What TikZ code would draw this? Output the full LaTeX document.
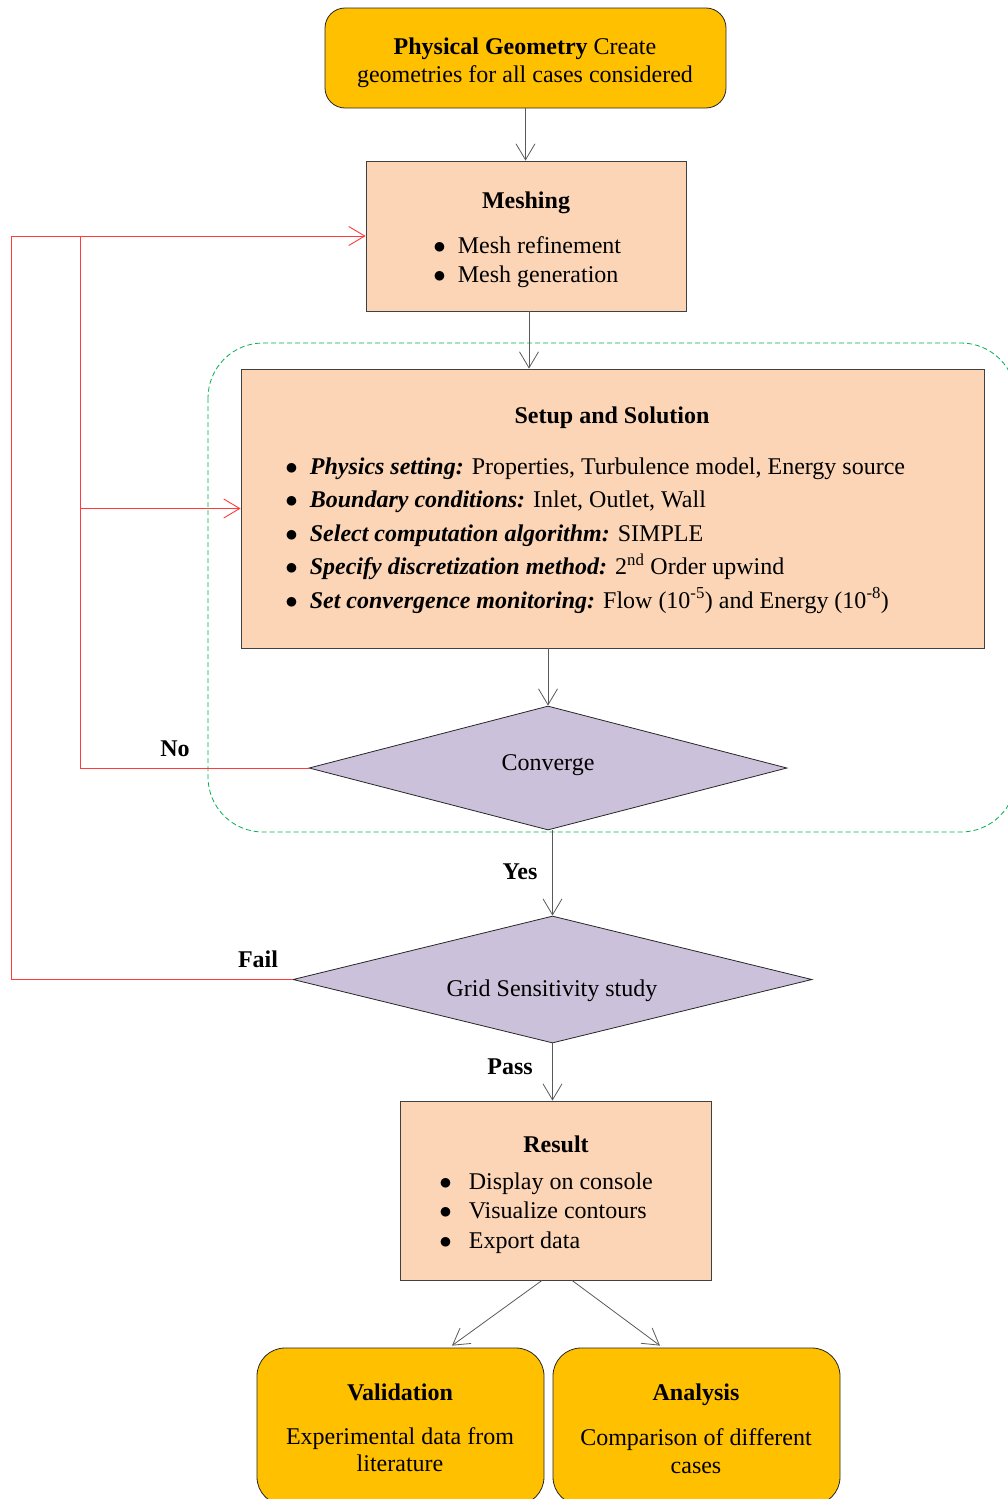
\documentclass[tikz,border=0pt]{standalone}
\usepackage{fontspec}
\setmainfont{Liberation Serif}
\usetikzlibrary{arrows.meta}
\usetikzlibrary{shapes.geometric}

\definecolor{gold}{HTML}{FFC000}
\definecolor{peach}{HTML}{FBD5B5}
\definecolor{lilac}{HTML}{CCC1DA}
\definecolor{loopred}{HTML}{FF3B3B}
\definecolor{dashgreen}{HTML}{00B050}
\definecolor{linegray}{HTML}{595959}

\newcommand{\bul}{$\bullet$}

\tikzset{
  txt/.style={font=\fontsize{24}{28}\selectfont, inner sep=0pt},
  endbox/.style={draw=black!85, fill=gold, rounded corners=20pt, inner sep=0pt},
  stepbox/.style={draw=black!75, fill=peach, inner sep=0pt},
  decide/.style={diamond, draw=black!85, fill=lilac, inner sep=0pt},
  conn/.style={linegray, -{Straight Barb[length=16pt,width=19pt]}},
  fb/.style={loopred, line width=0.9pt, -{Straight Barb[length=16pt,width=19pt]}},
}

\begin{document}
\begin{tikzpicture}[x=1pt, y=-1pt, line width=0.8pt]
\useasboundingbox (0,0) rectangle (1008,1499);

\draw[dashgreen, dash pattern=on 5pt off 3pt, rounded corners=55pt] (208,343) rectangle (1016,832);

\node[endbox, minimum width=401pt, minimum height=100pt] (geom) at (525.5,58) {};
\node[stepbox, minimum width=320pt, minimum height=150pt] (mesh) at (526,236) {};
\node[stepbox, minimum width=743pt, minimum height=279pt] (setup) at (612.5,508.5) {};
\node[decide, minimum width=478pt, minimum height=124pt] (conv) at (548,768) {};
\node[decide, minimum width=519pt, minimum height=127pt] (grid) at (552.5,979.5) {};
\node[stepbox, minimum width=311pt, minimum height=179pt] (result) at (555.5,1190.5) {};
\node[endbox, rounded corners=28pt, minimum width=287pt, minimum height=157pt] (valid) at (400.5,1426.5) {};
\node[endbox, rounded corners=28pt, minimum width=287pt, minimum height=157pt] (anal) at (696.5,1426.5) {};

\node[txt, anchor=base, align=center] (geomT) at (525,82) {\textbf{Physical Geometry} Create\\geometries for all cases considered};

\node[txt, anchor=base] (meshT) at (526,208) {\textbf{Meshing}};
\node[txt, anchor=base west, font=\fontsize{24}{29}\selectfont] (meshL) at (433,253)
  {\begin{tabular}[t]{@{}l@{\hspace{12pt}}l@{}}
  \bul & Mesh refinement\\
  \bul & Mesh generation
  \end{tabular}};

\node[txt, anchor=base] (setupT) at (612,423) {\textbf{Setup and Solution}};
\node[txt, anchor=base west, font=\fontsize{24}{33.5}\selectfont] (setupL) at (285,474)
  {\begin{tabular}[t]{@{}l@{\hspace{12pt}}l@{}}
  \bul & \textbf{\textit{Physics setting:}} Properties, Turbulence model, Energy source\\
  \bul & \textbf{\textit{Boundary conditions:}} Inlet, Outlet, Wall\\
  \bul & \textbf{\textit{Select computation algorithm:}} SIMPLE\\
  \bul & \textbf{\textit{Specify discretization method:}} 2\textsuperscript{nd} Order upwind\\
  \bul & \textbf{\textit{Set convergence monitoring:}} Flow (10\textsuperscript{-5}) and Energy (10\textsuperscript{-8})
  \end{tabular}};

\node[txt, anchor=base] (convT) at (548,770) {Converge};
\node[txt, anchor=base] (gridT) at (552,996) {Grid Sensitivity study};

\node[txt, anchor=base] (resultT) at (556,1152) {\textbf{Result}};
\node[txt, anchor=base west, font=\fontsize{24}{29.5}\selectfont] (resultL) at (439,1189)
  {\begin{tabular}[t]{@{}l@{\hspace{17pt}}l@{}}
  \bul & Display on console\\
  \bul & Visualize contours\\
  \bul & Export data
  \end{tabular}};

\node[txt, anchor=base] (validT) at (400,1400) {\textbf{Validation}};
\node[txt, anchor=base, align=center, font=\fontsize{24}{27}\selectfont] (validL) at (400,1471) {Experimental data from\\literature};
\node[txt, anchor=base] (analT) at (696,1400) {\textbf{Analysis}};
\node[txt, anchor=base, align=center] (analL) at (696,1473) {Comparison of different\\cases};

\node[txt, anchor=base] (noL) at (175,756) {\textbf{No}};
\node[txt, anchor=base] (yesL) at (520,879) {\textbf{Yes}};
\node[txt, anchor=base] (failL) at (258,967) {\textbf{Fail}};
\node[txt, anchor=base] (passL) at (510,1074) {\textbf{Pass}};

\draw[conn] (geom.south) -- (geom.south |- mesh.north);
\draw[conn] ([xshift=3pt]mesh.south) -- ([xshift=3pt]mesh.south |- setup.north);
\draw[conn] (conv.north |- setup.south) -- (conv.north);
\draw[conn] (grid.north |- conv.south) -- (grid.north);
\draw[conn] (grid.south) -- (grid.south |- result.north);
\draw[conn] ([xshift=-13.5pt]result.south) -- ([xshift=51.5pt,yshift=2pt]valid.north);
\draw[conn] ([xshift=16.5pt]result.south) -- ([xshift=-36.5pt,yshift=2pt]anal.north);

\coordinate (jn) at (80,236);
\draw[fb] (grid.west) -| (11,236) -- (mesh.west);
\draw[loopred, line width=0.9pt] (conv.west) -| (jn);
\draw[fb] (jn |- setup.west) -- (setup.west);

\end{tikzpicture}
\end{document}
